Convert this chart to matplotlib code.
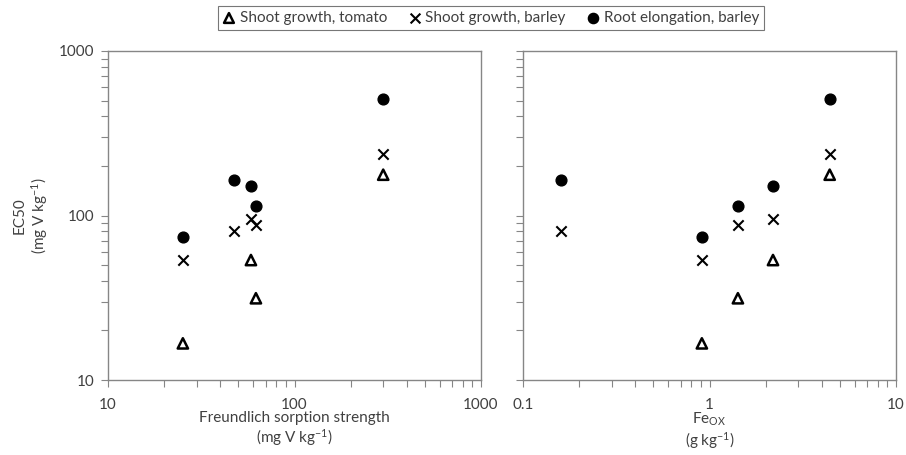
import numpy as np
import matplotlib
matplotlib.use('Agg')
import matplotlib.pyplot as plt
from matplotlib.ticker import LogLocator, FixedLocator, FixedFormatter, NullFormatter

plt.rcParams['font.family'] = ['Lato', 'DejaVu Sans']
plt.rcParams['mathtext.fontset'] = 'custom'
plt.rcParams['mathtext.rm'] = 'Lato'
plt.rcParams['mathtext.it'] = 'Lato:italic'

# one entry per soil
sorption = [25.2, 47.5, 58.4, 62.1, 299]      # Freundlich sorption strength (mg V/kg)
fe_ox = [0.91, 0.16, 2.19, 1.42, 4.41]        # Fe_ox (g/kg)
tomato_shoot = [16.7, np.nan, 53.6, 31.4, 177]
barley_shoot = [53.6, 80.5, 94.8, 87.5, 236]
barley_root = [74.0, 164, 152, 115, 513]

labels = ['Shoot growth, tomato', 'Shoot growth, barley', 'Root elongation, barley']
grey = '#404040'
spine_col = '#868686'

fig = plt.figure(figsize=(9.06, 4.55), dpi=100)
ax1 = fig.add_axes([108/906, 1 - 380/455, 373/906, 329/455])
ax2 = fig.add_axes([523/906, 1 - 380/455, 373/906, 329/455])


def draw(ax, x):
    h1 = ax.scatter(x, tomato_shoot, marker='^', s=55, facecolors='none',
                    edgecolors='black', linewidths=1.8, zorder=3)
    h2 = ax.scatter(x, barley_shoot, marker='x', s=55, color='black',
                    linewidths=1.5, zorder=3)
    h3 = ax.scatter(x, barley_root, marker='o', s=60, color='black', zorder=3)
    ax.set_xscale('log')
    ax.set_yscale('log')
    ax.set_ylim(10, 1000)
    for s in ax.spines.values():
        s.set_color(spine_col)
        s.set_linewidth(1.0)
    ax.tick_params(which='both', direction='out', length=5, width=0.8,
                   color=spine_col, labelcolor=grey, labelsize=11)
    ax.tick_params(axis='x', which='both', pad=8)
    ax.tick_params(axis='y', which='both', pad=5)
    ax.yaxis.set_minor_formatter(NullFormatter())
    ax.xaxis.set_minor_formatter(NullFormatter())
    return h1, h2, h3


handles = draw(ax1, sorption)
draw(ax2, fe_ox)

ax1.set_xlim(10, 1000)
ax1.xaxis.set_major_locator(FixedLocator([10, 100, 1000]))
ax1.xaxis.set_major_formatter(FixedFormatter(['10', '100', '1000']))
ax1.yaxis.set_major_locator(FixedLocator([10, 100, 1000]))
ax1.yaxis.set_major_formatter(FixedFormatter(['10', '100', '1000']))

ax2.set_xlim(0.1, 10)
ax2.xaxis.set_major_locator(FixedLocator([0.1, 1, 10]))
ax2.xaxis.set_major_formatter(FixedFormatter(['0.1', '1', '10']))
ax2.yaxis.set_major_locator(FixedLocator([10, 100, 1000]))
ax2.yaxis.set_major_formatter(NullFormatter())

for ax in (ax1, ax2):
    ax.xaxis.set_minor_locator(LogLocator(base=10, subs=np.arange(2, 10)))
    ax.yaxis.set_minor_locator(LogLocator(base=10, subs=np.arange(2, 10)))

ax1.set_ylabel('EC50\n(mg V kg$^{-1}$)', color=grey, fontsize=11, labelpad=6)
ax1.set_xlabel('Freundlich sorption strength\n(mg V kg$^{-1}$)', color=grey,
               fontsize=11, labelpad=-1, linespacing=1.15)
ax2.set_xlabel('Fe$_{\\mathrm{OX}}$\n(g kg$^{-1}$)', color=grey,
               fontsize=11, labelpad=-1, linespacing=1.1)

leg = fig.legend(handles, labels, loc='center', ncol=3,
                 bbox_to_anchor=(491/906, 1 - 18/455), frameon=True,
                 fancybox=False, edgecolor='#555555', fontsize=11,
                 handlelength=0.8, handletextpad=0.3, columnspacing=1.4,
                 borderpad=0.3, markerscale=0.95)
leg.get_frame().set_linewidth(0.8)
for t in leg.get_texts():
    t.set_color(grey)

fig.savefig('out.png', dpi=100)
